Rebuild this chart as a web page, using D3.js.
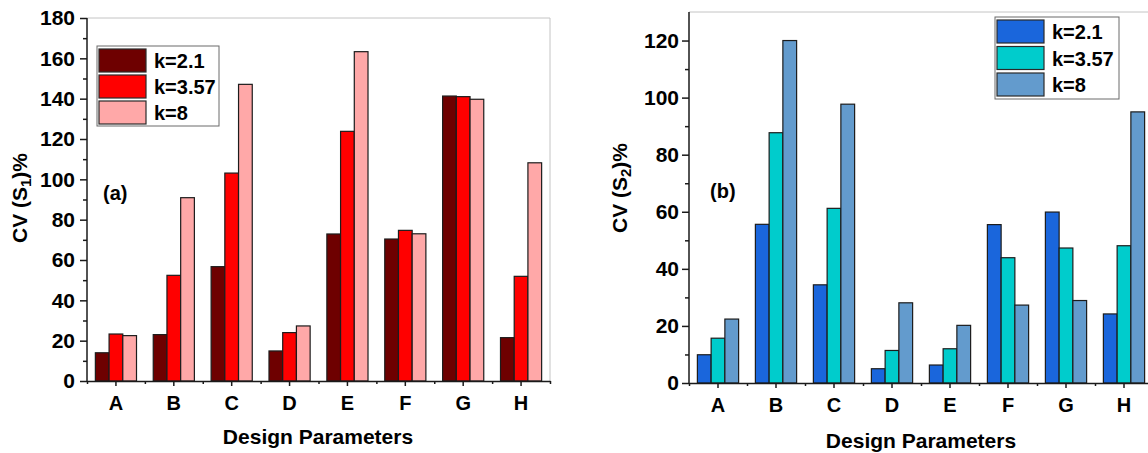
<!DOCTYPE html>
<html>
<head>
<meta charset="utf-8">
<script src="https://cdn.jsdelivr.net/npm/d3@7"></script>
<style>
  body { margin: 0; background: #fff; }
  svg { display: block; font-family: "Liberation Sans", Arial, sans-serif; font-weight: bold; }
</style>
</head>
<body>
<svg id="chart" width="1148" height="453"></svg>
<script>
// ---- data ----
const params = ['A', 'B', 'C', 'D', 'E', 'F', 'G', 'H'];
const seriesNames = ['k=2.1', 'k=3.57', 'k=8'];

// panel (a): CV(S1)%
const s1_k21  = [14.0, 23.0, 56.7, 14.9, 72.9, 70.4, 141.3, 21.5];
const s1_k357 = [23.3, 52.4, 103.1, 24.0, 123.8, 74.7, 141.0, 51.9];
const s1_k8   = [22.5, 90.9, 147.1, 27.3, 163.3, 73.0, 139.7, 108.2];
const s1Ticks = [0, 20, 40, 60, 80, 100, 120, 140, 160, 180];

// panel (b): CV(S2)%
const s2_k21  = [9.9, 55.6, 34.4, 5.0, 6.3, 55.5, 59.9, 24.2];
const s2_k357 = [15.7, 87.7, 61.2, 11.4, 12.0, 43.9, 47.3, 48.1];
const s2_k8   = [22.4, 120.0, 97.7, 28.1, 20.2, 27.3, 28.9, 95.0];
const s2Ticks = [0, 20, 40, 60, 80, 100, 120];

const svg = d3.select('#chart');

function drawPanel(cfg) {
  const g = svg.append('g');
  const x = d3.scaleBand().domain(params).range([cfg.x0, cfg.x1]);
  const sub = d3.scaleBand().domain(seriesNames).range([0, x.bandwidth()]).paddingOuter(0.61);
  const y = d3.scaleLinear().domain([0, cfg.max]).range([cfg.yBot, cfg.yTop]);
  const xi = d3.scaleLinear().domain([0, params.length]).range([cfg.x0, cfg.x1]);

  // frame top/right
  g.append('path')
    .attr('d', `M${cfg.x0},${cfg.yTop}H${cfg.x1}V${cfg.yBot}`)
    .attr('fill', 'none').attr('stroke', '#c4c4c4').attr('stroke-width', 1);

  // bars
  const rows = params.map((p, i) => seriesNames.map((s, j) => ({ p, s, v: cfg.series[j][i], c: cfg.colors[j] })));
  g.append('g').selectAll('rect')
    .data(rows.flat())
    .join('rect')
    .attr('x', d => x(d.p) + sub(d.s))
    .attr('y', d => y(d.v))
    .attr('width', sub.bandwidth())
    .attr('height', d => y(0) - y(d.v))
    .attr('fill', d => d.c)
    .attr('stroke', '#1c1c1c').attr('stroke-width', 1.2);

  // y axis major + minor
  const ya = g.append('g').attr('transform', `translate(${cfg.x0},0)`)
    .call(d3.axisLeft(y).tickValues(cfg.ticks).tickSize(7).tickPadding(cfg.yPad).tickSizeOuter(0));
  g.append('g').attr('transform', `translate(${cfg.x0},0)`)
    .call(d3.axisLeft(y).tickValues(d3.range(10, cfg.max, 20)).tickSize(4).tickFormat('').tickSizeOuter(0))
    .select('.domain').remove();
  ya.select('.domain').attr('d', `M0,${cfg.yTop}V${cfg.yBot}`);

  // x axis: major at centers, minor at boundaries
  const xa = g.append('g').attr('transform', `translate(0,${cfg.yBot})`)
    .call(d3.axisBottom(x).tickSize(5).tickPadding(10).tickSizeOuter(0));
  g.append('g').attr('transform', `translate(0,${cfg.yBot})`)
    .call(d3.axisBottom(xi).tickValues(d3.range(0, params.length + 1)).tickSize(3).tickFormat('').tickSizeOuter(0))
    .select('.domain').remove();

  g.selectAll('g').attr('font-family', null).attr('font-size', null);
  ya.selectAll('text').attr('font-size', 21).attr('fill', '#000');
  xa.selectAll('text').attr('font-size', 20).attr('fill', '#000');
  g.selectAll('.domain, .tick line').attr('stroke', '#1a1a1a').attr('stroke-width', 1.5);

  // axis titles
  g.append('text')
    .attr('x', cfg.xTitle[0]).attr('y', cfg.xTitle[1])
    .attr('text-anchor', 'middle').attr('font-size', 21)
    .text('Design Parameters');
  const yt = g.append('text')
    .attr('transform', `translate(${cfg.yTitle[0]},${cfg.yTitle[1]}) rotate(-90)`)
    .attr('text-anchor', 'middle').attr('font-size', 21);
  yt.append('tspan').text('CV (S');
  yt.append('tspan').attr('font-size', 15).attr('dy', 4).text(cfg.sub);
  yt.append('tspan').attr('dy', -4).text(')%');

  // panel tag
  g.append('text').attr('x', cfg.tag[0]).attr('y', cfg.tag[1])
    .attr('font-size', 20).text(cfg.tagText);

  // legend
  const L = cfg.legend;
  g.append('rect').attr('x', L.x).attr('y', L.y).attr('width', L.w).attr('height', L.h)
    .attr('fill', '#fff').attr('stroke', '#6a6a6a').attr('stroke-width', 1);
  const li = g.append('g').selectAll('g').data(seriesNames).join('g')
    .attr('transform', (d, i) => `translate(${L.x + 2},${L.y + 3 + i * L.step})`);
  li.append('rect').attr('width', 47).attr('height', 23)
    .attr('fill', (d, i) => cfg.colors[i]).attr('stroke', '#2a2a2a').attr('stroke-width', 1.2);
  li.append('text').attr('x', 55).attr('y', 19).attr('font-size', 20).text(d => d);
}

drawPanel({
  x0: 87, x1: 550, yTop: 18, yBot: 381, max: 180, ticks: s1Ticks, yPad: 5,
  series: [s1_k21, s1_k357, s1_k8],
  colors: ['#6e0000', '#ff0000', '#ffa8a8'],
  xTitle: [318, 444], yTitle: [27, 198], sub: '1',
  tag: [103, 200], tagText: '(a)',
  legend: { x: 97, y: 46, w: 122, h: 80, step: 26 }
});

drawPanel({
  x0: 689, x1: 1153, yTop: 12, yBot: 383, max: 130, ticks: s2Ticks, yPad: 3,
  series: [s2_k21, s2_k357, s2_k8],
  colors: ['#1a66dc', '#00cccc', '#639bcd'],
  xTitle: [921, 448], yTitle: [627, 188], sub: '2',
  tag: [710, 198], tagText: '(b)',
  legend: { x: 995, y: 17, w: 124, h: 82, step: 26.5 }
});
</script>
</body>
</html>
